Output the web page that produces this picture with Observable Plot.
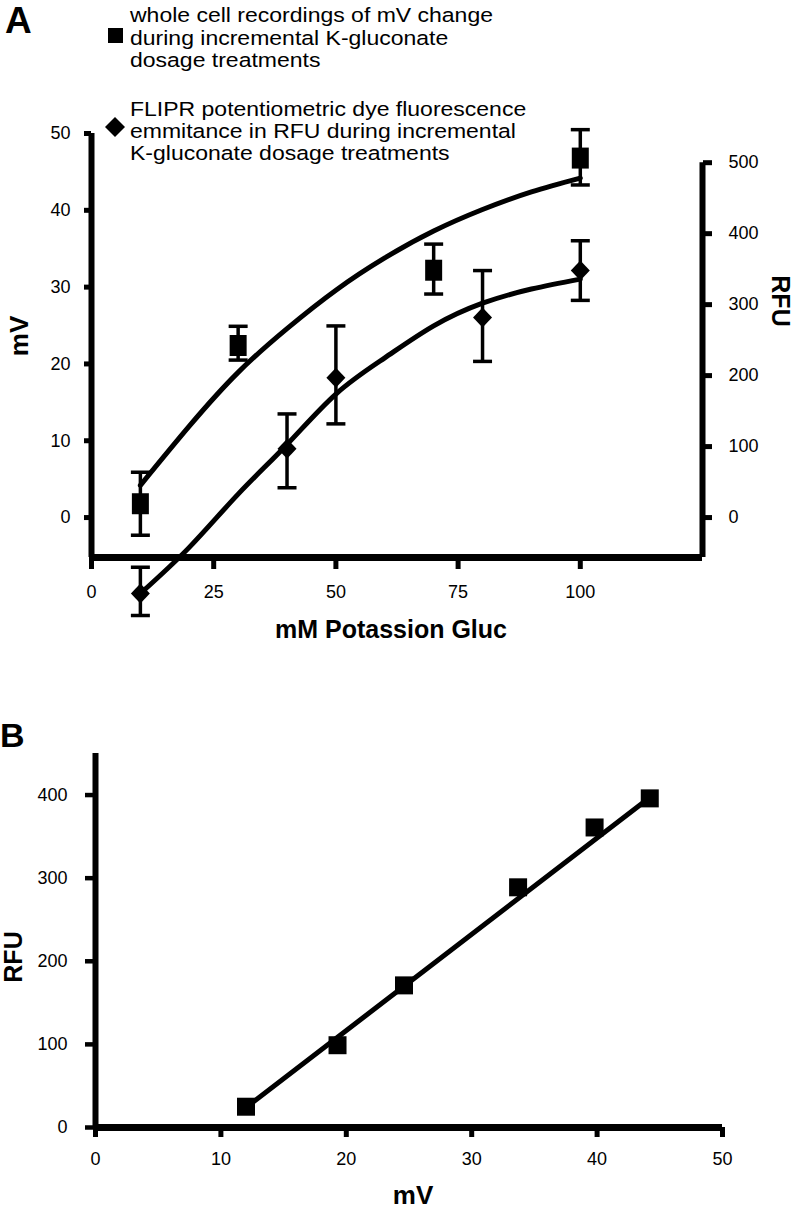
<!DOCTYPE html>
<html><head><meta charset="utf-8">
<script src="https://cdn.jsdelivr.net/npm/d3@7"></script>
<script src="https://cdn.jsdelivr.net/npm/@observablehq/plot@0.6"></script>
<style>
body{margin:0;background:#fff;}
#fig{position:relative;width:794px;height:1214px;font-family:"Liberation Sans",Arial,Helvetica,sans-serif;}
#fig svg{position:absolute;left:0;}
</style></head><body><div id="fig"></div>
<script>
// ---------- Panel A data ----------
const doseMV = [10, 30, 70, 100];
const mvMean = [1.8, 22.4, 32.2, 46.8];
const mvLow  = [-2.3, 20.5, 29.1, 43.3];
const mvHigh = [5.9, 24.9, 35.6, 50.5];

const doseRFU = [10, 40, 50, 80, 100];
const rfuMean = [-107, 97, 197, 282, 348];
const rfuLow  = [-138, 42, 132, 220, 306];
const rfuHigh = [-70, 146, 270, 348, 390];

const fitDose = [10, 20, 30, 40, 50, 60, 70, 80, 90, 100];
const fitMV   = [4.2, 11.9, 18.9, 24.6, 29.6, 33.8, 37.3, 40.1, 42.4, 44.2];
const fitRFU  = [-107, -42, 33, 103, 174, 225, 270, 302, 322, 336];

const xTicksA = [0, 25, 50, 75, 100];
const mvTicks = [0, 10, 20, 30, 40, 50];
const rfuTicks = [0, 100, 200, 300, 400, 500];

// ---------- Panel B data ----------
const bMV  = [12.0, 19.3, 24.6, 33.7, 39.8, 44.2];
const bRFU = [25, 99, 171, 289, 361, 396];
const bFitMV  = [12.0, 44.2];
const bFitRFU = [24, 397];
const xTicksB = [0, 10, 20, 30, 40, 50];
const yTicksB = [0, 100, 200, 300, 400];

// ---------- helpers ----------
const K = 46.2 / 500; // right (RFU) axis expressed in left (mV) units
const FONT = '"Liberation Sans", Arial, Helvetica, sans-serif';

const squareA = {draw(ctx) { ctx.rect(-8.5, -10.5, 17, 21); }};
const squareB = {draw(ctx) { ctx.rect(-9, -9, 18, 18); }};
const diamond = {draw(ctx) { ctx.moveTo(0, -10); ctx.lineTo(9.5, 0); ctx.lineTo(0, 10); ctx.lineTo(-9.5, 0); ctx.closePath(); }};
const cap = {draw(ctx) { ctx.moveTo(-9.5, 0); ctx.lineTo(9.5, 0); }};

const rowsMV = doseMV.map((x, i) => ({x, y: mvMean[i], lo: mvLow[i], hi: mvHigh[i]}));
const rowsRFU = doseRFU.map((x, i) => ({x, y: rfuMean[i] * K, lo: rfuLow[i] * K, hi: rfuHigh[i] * K}));
const fitA = fitDose.map((x, i) => ({x, mv: fitMV[i], rfu: fitRFU[i] * K}));

const xDomA = [0, 125], yDomA = [-5.2, 50];

const plotA = Plot.plot({
  width: 794, height: 680,
  marginTop: 133, marginBottom: 123, marginLeft: 91, marginRight: 92,
  style: {fontFamily: FONT, fontSize: "18px", color: "black", background: "transparent"},
  x: {domain: xDomA},
  y: {domain: yDomA},
  marks: [
    Plot.axisY(mvTicks, {anchor: "left", tickSize: 7, tickPadding: 14, strokeWidth: 5, fontSize: 18, label: null}),
    Plot.axisY(rfuTicks.map(r => r * K), {anchor: "right", tickSize: 9, tickPadding: 17, strokeWidth: 5, fontSize: 18, label: null, tickFormat: d => String(Math.round(d / K))}),
    Plot.axisX(xTicksA, {anchor: "bottom", tickSize: 12, tickPadding: 16, strokeWidth: 5, fontSize: 18, label: null}),
    Plot.ruleX([xDomA[0]], {y1: yDomA[0], y2: yDomA[1], strokeWidth: 6}),
    Plot.ruleX([xDomA[1]], {y1: yDomA[0], y2: 500 * K, strokeWidth: 6}),
    Plot.ruleY([yDomA[0]], {x1: xDomA[0], x2: xDomA[1], strokeWidth: 7}),
    Plot.line(fitA, {x: "x", y: "mv", curve: "natural", strokeWidth: 5}),
    Plot.line(fitA, {x: "x", y: "rfu", curve: "natural", strokeWidth: 5}),
    Plot.ruleX(rowsMV, {x: "x", y1: "lo", y2: "hi", strokeWidth: 3.5}),
    Plot.dot(rowsMV, {x: "x", y: "lo", symbol: cap, fill: "none", stroke: "black", strokeWidth: 3.5}),
    Plot.dot(rowsMV, {x: "x", y: "hi", symbol: cap, fill: "none", stroke: "black", strokeWidth: 3.5}),
    Plot.dot(rowsMV, {x: "x", y: "y", symbol: squareA, fill: "black", stroke: "none"}),
    Plot.ruleX(rowsRFU, {x: "x", y1: "lo", y2: "hi", strokeWidth: 3.5}),
    Plot.dot(rowsRFU, {x: "x", y: "lo", symbol: cap, fill: "none", stroke: "black", strokeWidth: 3.5}),
    Plot.dot(rowsRFU, {x: "x", y: "hi", symbol: cap, fill: "none", stroke: "black", strokeWidth: 3.5}),
    Plot.dot(rowsRFU, {x: "x", y: "y", symbol: diamond, fill: "black", stroke: "none"})
  ]
});
plotA.style.top = "0px";

const rowsB = bMV.map((x, i) => ({x, y: bRFU[i]}));
const fitB = bFitMV.map((x, i) => ({x, y: bFitRFU[i]}));
const xDomB = [0, 50], yDomB = [0, 450];

const plotB = Plot.plot({
  width: 794, height: 534,
  marginTop: 73, marginBottom: 87, marginLeft: 95, marginRight: 72,
  style: {fontFamily: FONT, fontSize: "18px", color: "black", background: "transparent"},
  x: {domain: xDomB},
  y: {domain: yDomB},
  marks: [
    Plot.axisY(yTicksB, {anchor: "left", tickSize: 10, tickPadding: 18, strokeWidth: 4.5, fontSize: 18, label: null}),
    Plot.axisX(xTicksB, {anchor: "bottom", tickSize: 10, tickPadding: 15, strokeWidth: 5, fontSize: 18, label: null}),
    Plot.ruleX([xDomB[0]], {y1: yDomB[0], y2: yDomB[1], strokeWidth: 6}),
    Plot.ruleY([yDomB[0]], {x1: xDomB[0], x2: xDomB[1], strokeWidth: 7}),
    Plot.line(fitB, {x: "x", y: "y", strokeWidth: 5}),
    Plot.dot(rowsB, {x: "x", y: "y", symbol: squareB, fill: "black", stroke: "none"})
  ]
});
plotB.style.top = "680px";

const fig = document.getElementById("fig");
fig.appendChild(plotA);
fig.appendChild(plotB);

// ---------- overlay: panel letters, legend, axis titles ----------
const ov = d3.select(fig).append("svg")
  .attr("width", 794).attr("height", 1214)
  .style("top", "0px").style("pointer-events", "none")
  .attr("font-family", FONT).attr("fill", "black");

function txt(x, y, s, size, weight, anchor, transform) {
  const t = ov.append("text").attr("font-size", size).attr("font-weight", weight || "normal")
    .attr("text-anchor", anchor || "start").text(s);
  if (transform) t.attr("transform", transform); else t.attr("x", x).attr("y", y);
  return t;
}

txt(5, 33, "A", 37, "bold");
txt(0, 747, "B", 34, "bold");

// legend (original typeface is wider than Liberation Sans: stretch horizontally)
ov.append("rect").attr("x", 108).attr("y", 28).attr("width", 15).attr("height", 15);
const leg1 = ["whole cell recordings of mV change", "during incremental K-gluconate", "dosage treatments"];
[22, 44.5, 67].forEach((y, i) => txt(0, 0, leg1[i], 19.5, "normal", "start", `translate(130,${y}) scale(1.18,1)`));
ov.append("path").attr("d", "M115,117L125,127L115,137L105,127Z");
const leg2 = ["FLIPR potentiometric dye fluorescence", "emmitance in RFU during incremental", "K-gluconate dosage treatments"];
[115.5, 137.5, 159.5].forEach((y, i) => txt(0, 0, leg2[i], 19.5, "normal", "start", `translate(130,${y}) scale(1.18,1)`));

// axis titles
txt(0, 0, "mV", 26, "bold", "middle", "translate(28,336) rotate(-90)");
txt(0, 0, "RFU", 25, "bold", "middle", "translate(772,301) rotate(90)");
txt(391, 638, "mM Potassion Gluc", 25, "bold", "middle");
txt(0, 0, "RFU", 25, "bold", "middle", "translate(22,957) rotate(-90)");
txt(413, 1204, "mV", 26, "bold", "middle");
</script></body></html>
